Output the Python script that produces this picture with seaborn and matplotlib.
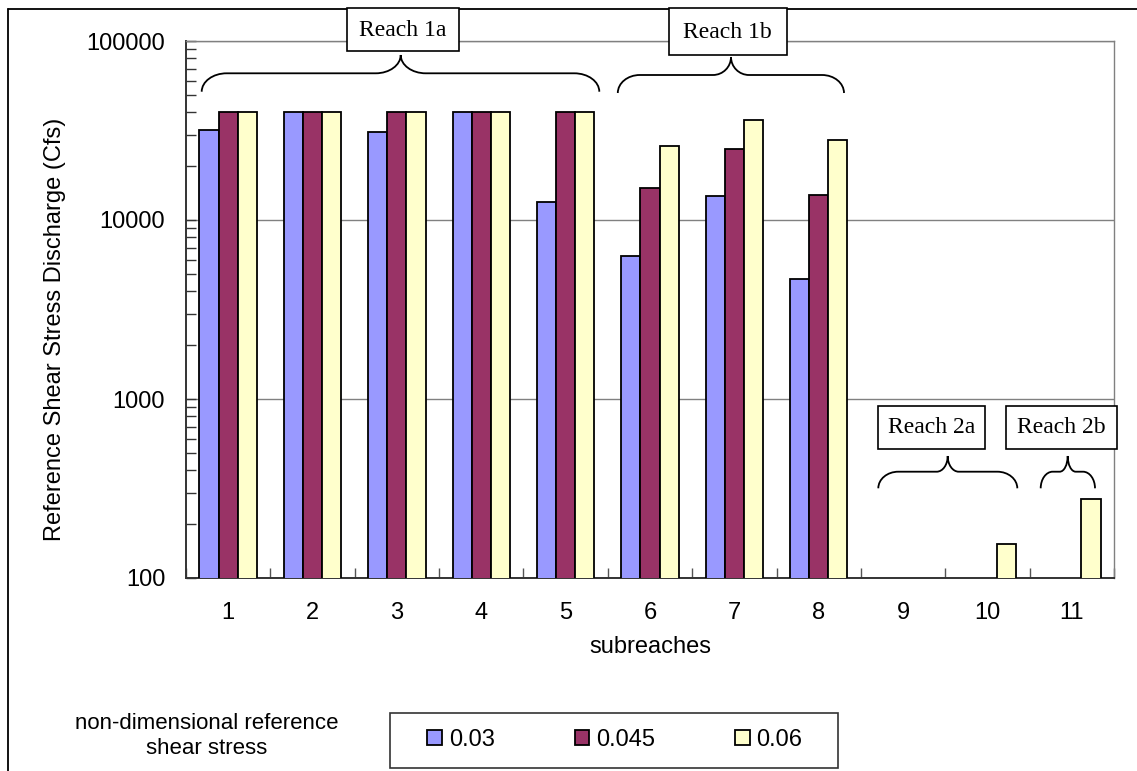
import numpy as np
import pandas as pd
import matplotlib
matplotlib.use("Agg")
import matplotlib.pyplot as plt
import seaborn as sns
from matplotlib.path import Path
from matplotlib.patches import PathPatch, Rectangle
from matplotlib.lines import Line2D
from matplotlib.ticker import LogLocator, NullFormatter, FixedLocator

# ---------------- data ----------------
subreaches = ["1", "2", "3", "4", "5", "6", "7", "8", "9", "10", "11"]
series_labels = ["0.03", "0.045", "0.06"]
q_003 = [32000, 40000, 31000, 40000, 12600, 6300, 13600, 4700, np.nan, np.nan, np.nan]
q_0045 = [40000, 40000, 40000, 40000, 40000, 15000, 25000, 13800, np.nan, np.nan, np.nan]
q_006 = [40000, 40000, 40000, 40000, 40000, 26000, 36000, 28000, np.nan, 155, 275]
y_ticks = [100, 1000, 10000, 100000]
y_tick_labels = ["100", "1000", "10000", "100000"]
reach_names = ["Reach 1a", "Reach 1b", "Reach 2a", "Reach 2b"]
colors = ["#9999FF", "#993366", "#FFFFCC"]

rows = []
for lab, vals in zip(series_labels, [q_003, q_0045, q_006]):
    for s, v in zip(subreaches, vals):
        rows.append({"subreach": s, "discharge": v, "tau": lab})
df = pd.DataFrame(rows).dropna()

# ---------------- figure ----------------
W, H = 1137, 771
sns.set_theme(style="white")
plt.rcParams["font.family"] = ["Liberation Sans", "DejaVu Sans"]
plt.rcParams["text.color"] = "black"
plt.rcParams["axes.labelcolor"] = "black"
plt.rcParams["xtick.color"] = "black"
plt.rcParams["ytick.color"] = "black"

fig = plt.figure(figsize=(W / 100, H / 100), dpi=100)
fig.patch.set_facecolor("white")

def fx(x):
    return x / W

def fy(y):
    return 1 - y / H

ax_l, ax_r, ax_t, ax_b = 186, 1114, 41, 578
ax = fig.add_axes([fx(ax_l), fy(ax_b), (ax_r - ax_l) / W, (ax_b - ax_t) / H])
ax.set_yscale("log")

sns.barplot(data=df, x="subreach", y="discharge", hue="tau", order=subreaches,
            hue_order=series_labels, palette=colors, width=0.68,
            edgecolor="black", linewidth=1.3, saturation=1, ax=ax, zorder=3)

ax.set_ylim(100, 100000)
ax.set_xlim(-0.5, len(subreaches) - 0.5)

# y axis ticks
ax.yaxis.set_major_locator(FixedLocator(y_ticks))
ax.set_yticklabels(y_tick_labels)
ax.yaxis.set_minor_locator(LogLocator(base=10, subs=np.arange(2, 10)))
ax.yaxis.set_minor_formatter(NullFormatter())
ax.tick_params(axis="y", which="major", direction="in", length=7, width=1,
               color="#333333", pad=15, labelsize=17, labelcolor="black", left=True)
ax.tick_params(axis="y", which="minor", direction="in", length=7, width=1,
               color="#333333", left=True)

# x axis ticks: labels at centers, tick marks at category boundaries
ax.set_xticks(range(len(subreaches)))
ax.set_xticklabels(subreaches)
ax.set_xticks(np.arange(-0.5, len(subreaches), 1.0), minor=True)
ax.tick_params(axis="x", which="major", length=0, pad=17, labelsize=17, labelcolor="black")
ax.tick_params(axis="x", which="minor", direction="in", length=7, width=1,
               color="#555555", bottom=True)

ax.yaxis.grid(True, which="major", color="#808080", linewidth=1)
ax.xaxis.grid(False)
ax.set_axisbelow(True)

for side in ["left", "bottom"]:
    ax.spines[side].set_color("#333333")
    ax.spines[side].set_linewidth(1.4)
for side in ["top", "right"]:
    ax.spines[side].set_color("#808080")
    ax.spines[side].set_linewidth(1.0)

ax.set_xlabel("subreaches", fontsize=17, va="center", color="black")
ax.xaxis.set_label_coords(fx((ax_l + ax_r) / 2), fy(647), transform=fig.transFigure)
ax.set_ylabel("Reference Shear Stress Discharge (Cfs)", fontsize=17, va="center", color="black")
ax.yaxis.set_label_coords(fx(55), fy(329), transform=fig.transFigure)

# ---------------- legend ----------------
handles, labels = ax.get_legend_handles_labels()
if ax.get_legend() is not None:
    ax.get_legend().remove()
leg = fig.legend(handles, labels, ncol=3, loc="center",
                 bbox_to_anchor=(fx(615), fy(740)), frameon=False,
                 fontsize=17, handlelength=0.6, handleheight=0.6,
                 handletextpad=0.3, columnspacing=3.4, borderaxespad=0)
for t in leg.get_texts():
    t.set_color("black")
fig.patches.append(Rectangle((fx(390), fy(767.7)), (838 - 390) / W, (767.7 - 712.7) / H,
                             transform=fig.transFigure, facecolor="none",
                             edgecolor="#333333", linewidth=1.2))
fig.text(fx(207), fy(736), "non-dimensional reference\nshear stress", ha="center",
         va="center", multialignment="center", fontsize=16, color="black")

# ---------------- figure border (left/top) ----------------
fig.lines.append(Line2D([fx(8), fx(8)], [fy(9), 0], transform=fig.transFigure,
                        color="black", linewidth=1.3))
fig.lines.append(Line2D([fx(8), 1], [fy(9), fy(9)], transform=fig.transFigure,
                        color="black", linewidth=1.3))

# ---------------- reach annotations ----------------
def brace(x0, x1, tip, y_end, y_h, y_tip, r, rt):
    k = 0.552
    v = [(x0, y_end),
         (x0, y_end - k * (y_end - y_h)), (x0 + r - k * r, y_h), (x0 + r, y_h),
         (tip - rt, y_h),
         (tip - rt + k * rt, y_h), (tip, y_tip + k * (y_h - y_tip)), (tip, y_tip),
         (tip, y_tip + k * (y_h - y_tip)), (tip + rt - k * rt, y_h), (tip + rt, y_h),
         (x1 - r, y_h),
         (x1 - r + k * r, y_h), (x1, y_end - k * (y_end - y_h)), (x1, y_end)]
    c = [Path.MOVETO, Path.CURVE4, Path.CURVE4, Path.CURVE4, Path.LINETO,
         Path.CURVE4, Path.CURVE4, Path.CURVE4, Path.CURVE4, Path.CURVE4, Path.CURVE4,
         Path.LINETO, Path.CURVE4, Path.CURVE4, Path.CURVE4]
    verts = [(fx(a), fy(b)) for a, b in v]
    fig.patches.append(PathPatch(Path(verts, c), transform=fig.transFigure,
                                 facecolor="none", edgecolor="black", linewidth=1.3,
                                 zorder=5))

def reach_box(x0, x1, y0, y1, text):
    fig.patches.append(Rectangle((fx(x0), fy(y1)), (x1 - x0) / W, (y1 - y0) / H,
                                 transform=fig.transFigure, facecolor="white",
                                 edgecolor="black", linewidth=1.2, zorder=6))
    fig.text(fx((x0 + x1) / 2), fy((y0 + y1) / 2 + 0.5), text, ha="center", va="center",
             fontsize=17, color="black", family=["Liberation Serif", "DejaVu Serif"], zorder=7)

brace(201.7, 599.3, 400.7, 91.7, 73.3, 55, 25, 25)
brace(617.8, 844.0, 731.0, 93, 75, 57, 22, 18)
brace(878.3, 1017.3, 947.7, 488.3, 471.7, 456, 20, 11)
brace(1040.7, 1095.0, 1067.7, 488.3, 471.7, 456, 12, 8)

reach_box(346.7, 459.3, 8, 51, reach_names[0])
reach_box(668.5, 786.6, 8, 55, reach_names[1])
reach_box(878, 985, 405.7, 448.7, reach_names[2])
reach_box(1006, 1117.3, 405.7, 448.7, reach_names[3])

fig.savefig("out.png", dpi=100, facecolor="white")
